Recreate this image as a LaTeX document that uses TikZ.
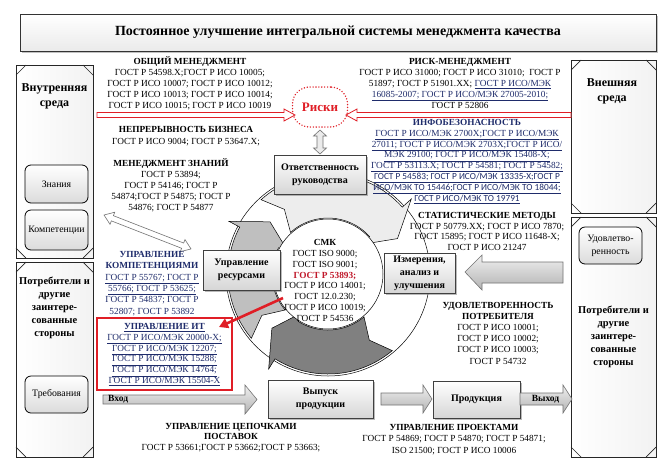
\documentclass[tikz,border=0pt]{standalone}
\usepackage{fontspec}
\setmainfont{Liberation Serif}
\newfontfamily\calibfont{Carlito}
\usetikzlibrary{shadows,arrows.meta}
\definecolor{navy}{HTML}{1F2C6B}
\definecolor{rred}{HTML}{E01E26}
\definecolor{dred}{HTML}{C0182A}
\newcommand\uln[1]{\underline{#1}}
\newcommand\ringarrow[5]{%
  \filldraw[fill=#1, draw=black, line width=0.5pt]
    (#2:100) arc[start angle=#2, end angle=#3, radius=100]
    -- (#3:112) -- (#4:78) -- (#3:44)
    -- (#3:56) arc[start angle=#3, end angle=#2, radius=56]
    -- (#5:78) -- cycle;}
\newcommand\pcorners[4]{%
  \draw[black!85, line width=0.7pt] (#1,{#2+10}) -- ({#1+10},#2) ({#3-10},#2) -- (#3,{#2+10})
    (#1,{#4-10}) -- ({#1+10},#4) ({#3-10},#4) -- (#3,{#4-10});}
\begin{document}
\begin{tikzpicture}[x=1pt,y=-1pt,
  sm/.style={font=\fontsize{9.3}{10.9}\selectfont, align=center, inner sep=0pt},
  gbox/.style={draw=black!75, line width=0.7pt, top color=white, bottom color=black!16,
    font=\bfseries\fontsize{10}{13}\selectfont, align=center, inner sep=1pt,
    drop shadow={shadow xshift=1.5pt,shadow yshift=-1.5pt,opacity=0.45,fill=black!60}},
  rbox/.style={draw=black, line width=0.8pt, rounded corners=6pt, top color=white, bottom color=black!14,
    font=\fontsize{9.8}{13}\selectfont, align=center, inner sep=1pt},
  panel/.style={draw=black!85, line width=0.8pt, left color=white, right color=black!5},
  fatarrow/.style={draw=black!55, line width=0.6pt, top color=black!6, bottom color=black!30},
  redarrow/.style={draw=rred, line width=0.8pt, fill=white},
  ptitle/.style={font=\bfseries\fontsize{12}{15}\selectfont, align=center, inner sep=0pt},
  pstake/.style={font=\bfseries\fontsize{10.5}{13}\selectfont, align=center, inner sep=0pt},
]
\useasboundingbox (0,0) rectangle (668,472);
\fill[white] (0,0) rectangle (668,472);

% title
\node[draw=black!80, line width=1pt, top color=white, bottom color=black!8,
  minimum width=636pt, minimum height=37pt, inner sep=0pt,
  drop shadow={shadow xshift=1.5pt,shadow yshift=-1.5pt,opacity=0.4,fill=black!60}]
  (title) at (338,32.5) {\bfseries\fontsize{14}{16}\selectfont Постоянное улучшение интегральной системы менеджмента качества};

% side panels
\draw[panel] (16,65) rectangle (93,258);
\pcorners{16}{65}{93}{258}
\draw[panel] (16,262) rectangle (93,457);
\pcorners{16}{262}{93}{457}
\draw[panel] (571,60) rectangle (656,213);
\pcorners{571}{60}{656}{213}
\draw[panel] (571,217) rectangle (656,457);
\pcorners{571}{217}{656}{457}

\node[ptitle] (inner) at (54.5,96) {Внутренняя\\среда};
\node[ptitle] (outer) at (612,91) {Внешняя\\среда};
\node[pstake] (stakeL) at (54.5,308) {Потребители и\\другие\\заинтере-\\сованные\\стороны};
\node[pstake] (stakeR) at (613.5,337) {Потребители и\\другие\\заинтере-\\сованные\\стороны};

\node[rbox, minimum width=63pt, minimum height=38pt] (zn) at (56.5,184) {Знания};
\node[rbox, minimum width=63pt, minimum height=40pt] (komp) at (56.5,230) {Компетенции};
\node[rbox, minimum width=63pt, minimum height=37pt] (treb) at (56.5,394.5) {Требования};
\node[rbox, minimum width=63pt, minimum height=37pt] (udov) at (610.5,245.5) {Удовлетво-\\ренность};

% risks
\node[draw=rred, line width=1.5pt, dash pattern=on 0.1pt off 2.8pt, line cap=round,
  rounded corners=17pt, minimum width=55pt, minimum height=40pt,
  font=\bfseries\fontsize{13}{15}\selectfont, text=rred] (risk) at (320,107) {Риски};
\draw[redarrow] (97,112.5) -- (284,112.5) -- (284,109) -- (295,115) -- (284,121) -- (284,117.5) -- (97,117.5) -- cycle;
\draw[redarrow] (571,112.5) -- (357,112.5) -- (357,109) -- (346,115) -- (357,121) -- (357,117.5) -- (571,117.5) -- cycle;

% vertical double arrow
\draw[draw=black!55, fill=black!8, line width=0.6pt] (320,130) -- (326.5,136) -- (323,136) -- (323,148) -- (326.5,148)
  -- (320,154) -- (313.5,148) -- (317,148) -- (317,136) -- (313.5,136) -- cycle;

% diagonal double arrow
\begin{scope}[shift={(104,215)}, rotate=-21.3]
\draw[draw=black!55, fill=white, line width=0.6pt] (0,0) -- (9,-6.5) -- (9,-2.8) -- (84.4,-2.8) -- (84.4,-6.5) -- (93.4,0)
  -- (84.4,6.5) -- (84.4,2.8) -- (9,2.8) -- (9,6.5) -- cycle;
\end{scope}

% cycle
\begin{scope}[shift={(328,274)}]
\filldraw[fill=white, draw=black, line width=0.5pt] (0,0) circle[radius=102];
\ringarrow{black!50}{50}{122}{136}{58}
\ringarrow{black!25}{140}{208}{222}{148}
\ringarrow{black!7}{228}{318}{333}{236}
\filldraw[fill=white, draw=black, line width=0.5pt] (0,0) circle[radius=55];
\end{scope}

\node[sm] (smk) at (325,280.5) {\textbf{СМК}\\ГОСТ ISO 9000;\\ГОСТ ISO 9001;\\\textcolor{dred}{\textbf{ГОСТ Р 53893;}}\\ГОСТ Р ИСО 14001;\\ГОСТ 12.0.230;\\ГОСТ Р ИСО 10019;\\ГОСТ Р 54536};

% boxes
\node[gbox, minimum width=92pt, minimum height=39pt] (resp) at (320,174.5) {Ответственность\\руководства};
\node[gbox, minimum width=77pt, minimum height=40pt] (res) at (241.5,270) {Управление\\ресурсами};
\node[gbox, minimum width=71pt, minimum height=40pt] (meas) at (419.5,273) {Измерения,\\анализ и\\улучшения};
\node[gbox, minimum width=105pt, minimum height=38pt] (rel) at (320.5,399) {Выпуск\\продукции};
\node[gbox, minimum width=87pt, minimum height=37pt] (prod) at (476.5,399.5) {Продукция};

% big left arrow into measurement
\draw[fatarrow] (465,272) -- (482,255) -- (482,262) -- (563,262) -- (563,283) -- (482,283) -- (482,290) -- cycle;

% bottom flow arrows
\draw[fatarrow] (103,395) -- (245,395) -- (245,385) -- (257,399.5) -- (245,414) -- (245,404) -- (103,404) -- cycle;
\node[font=\bfseries\fontsize{9.5}{11}\selectfont, anchor=west, inner sep=0pt] (vhod) at (108,399.5) {Вход};
\draw[fatarrow] (381,393) -- (423,393) -- (423,385) -- (432,399) -- (423,413) -- (423,405) -- (381,405) -- cycle;
\draw[fatarrow] (520,393) -- (563,393) -- (563,385) -- (572,399) -- (563,413) -- (563,405) -- (520,405) -- cycle;
\node[font=\bfseries\fontsize{9.5}{11}\selectfont, inner sep=0pt] (vyhod) at (545.5,399) {Выход};

% IT box and red arrow
\draw[rred, line width=2.6pt] (97,318) rectangle (232,390);
\coordinate (rs) at (283,298);
\coordinate (re) at (219,327);
\draw[rred, line width=2.6pt, -{Triangle[length=9pt,width=10pt]}] (rs) -- (re);

% text blocks
\node[sm] (gen) at (190,83.5) {\textbf{ОБЩИЙ МЕНЕДЖМЕНТ}\\ГОСТ Р 54598.Х;ГОСТ Р ИСО 10005;\\ГОСТ Р ИСО 10007; ГОСТ Р ИСО 10012;\\ГОСТ Р ИСО 10013; ГОСТ Р ИСО 10014;\\ГОСТ Р ИСО 10015; ГОСТ Р ИСО 10019};
\node[sm, font=\fontsize{9.3}{12}\selectfont] (cont) at (186,136) {\textbf{НЕПРЕРЫВНОСТЬ БИЗНЕСА}\\ГОСТ Р ИСО 9004; ГОСТ Р 53647.Х;};
\node[sm] (know) at (171,185) {\textbf{МЕНЕДЖМЕНТ ЗНАНИЙ}\\ГОСТ Р 53894;\\ГОСТ Р 54146; ГОСТ Р\\54874;ГОСТ Р 54875; ГОСТ Р\\54876; ГОСТ Р 54877};
\node[sm, font=\fontsize{9.3}{11.4}\selectfont, text=navy] (comp) at (152,283.5) {\textbf{УПРАВЛЕНИЕ}\\\textbf{КОМПЕТЕНЦИЯМИ}\\\uln{ГОСТ Р 55767; ГОСТ Р}\\\uln{55766; ГОСТ Р 53625;}\\ГОСТ Р 54837; ГОСТ Р\\52807; ГОСТ Р 53892};
\node[sm, text=navy] (it) at (164.5,354.5) {\textbf{\uln{УПРАВЛЕНИЕ ИТ}}\\\uln{ГОСТ Р ИСО/МЭК 20000-Х;}\\\uln{ГОСТ Р ИСО/МЭК 12207;}\\\uln{ГОСТ Р ИСО/МЭК 15288;}\\\uln{ГОСТ Р ИСО/МЭК 14764;}\\\uln{ГОСТ Р ИСО/МЭК 15504-Х}};
\node[sm] (riskm) at (460,83.5) {\textbf{РИСК-МЕНЕДЖМЕНТ}\\ГОСТ Р ИСО 31000; ГОСТ Р ИСО 31010;~ ГОСТ Р\\51897; ГОСТ Р 51901.ХХ; \textcolor{navy}{\uln{ГОСТ Р ИСО/МЭК}}\\\textcolor{navy}{\uln{16085-2007; ГОСТ Р ИСО/МЭК 27005-2010;}}\\ГОСТ Р 52806};
\node[sm, text=navy] (infsec) at (467,161.5) {\textbf{ИНФОБЕЗОНАСНОСТЬ}\\\uln{ГОСТ Р ИСО/МЭК 2700Х;ГОСТ Р ИСО/МЭК}\\\uln{27011; ГОСТ Р ИСО/МЭК 2703Х;ГОСТ Р ИСО/}\\\uln{МЭК 29100; ГОСТ Р ИСО/МЭК 15408-Х;}\\\uln{ГОСТ Р 53113.Х; ГОСТ Р 54581; ГОСТ Р 54582;}\\{\calibfont\uln{ГОСТ Р 54583; ГОСТ Р ИСО/МЭК 13335-Х;ГОСТ Р}}\\{\calibfont\uln{ИСО/МЭК ТО 15446;ГОСТ Р ИСО/МЭК ТО 18044;}}\\{\calibfont\uln{ГОСТ Р ИСО/МЭК ТО 19791}}};
\node[sm] (stat) at (487,231.5) {\textbf{СТАТИСТИЧЕСКИЕ МЕТОДЫ}\\ГОСТ Р 50779.ХХ; ГОСТ Р ИСО 7870;\\ГОСТ 15895; ГОСТ Р ИСО 11648-Х;\\ГОСТ Р ИСО 21247};
\node[sm, font=\fontsize{9.3}{11.2}\selectfont] (cust) at (498,333) {\textbf{УДОВЛЕТВОРЕННОСТЬ}\\\textbf{ПОТРЕБИТЕЛЯ}\\ГОСТ Р ИСО 10001;\\ГОСТ Р ИСО 10002;\\ГОСТ Р ИСО 10003;\\ГОСТ Р 54732};
\node[sm, font=\fontsize{9.3}{10.5}\selectfont] (supply) at (231,437.5) {\textbf{УПРАВЛЕНИЕ ЦЕПОЧКАМИ}\\\textbf{ПОСТАВОК}\\ГОСТ Р 53661;ГОСТ Р 53662;ГОСТ Р 53663;};
\node[sm, font=\fontsize{9.3}{11.5}\selectfont] (proj) at (454,439.5) {\textbf{УПРАВЛЕНИЕ ПРОЕКТАМИ}\\ГОСТ Р 54869; ГОСТ Р 54870; ГОСТ Р 54871;\\ISO 21500; ГОСТ Р ИСО 10006};
\end{tikzpicture}
\end{document}
